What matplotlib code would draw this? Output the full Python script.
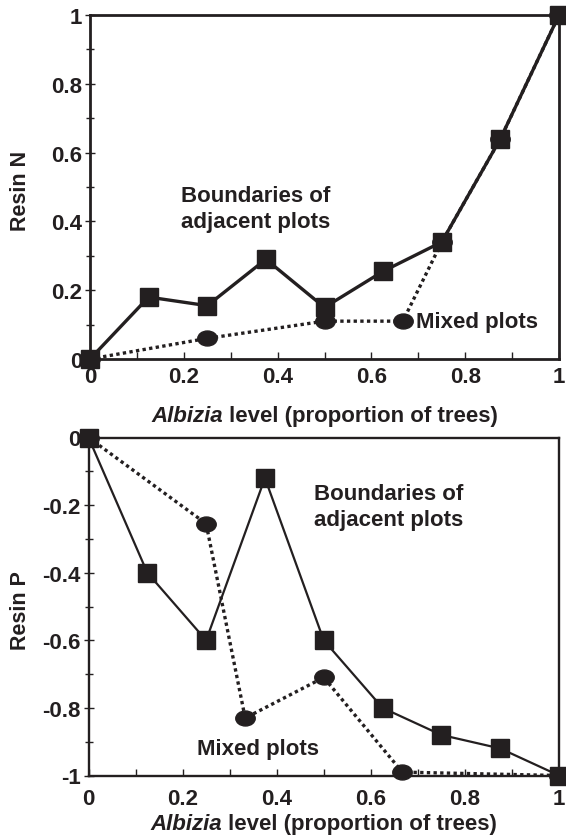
from matplotlib import pyplot as plt
from matplotlib.path import Path
from matplotlib.transforms import Affine2D
from matplotlib.ticker import MultipleLocator, FuncFormatter

plt.rcParams['font.family'] = ['Liberation Sans', 'DejaVu Sans']
plt.rcParams['font.weight'] = 'bold'
plt.rcParams['axes.unicode_minus'] = False

ink = '#231f20'
W, H = 566, 837

# top panel: resin N
xN_bound = [0, 0.125, 0.25, 0.375, 0.5, 0.625, 0.75, 0.875, 1]
yN_bound = [0, 0.18, 0.155, 0.29, 0.15, 0.255, 0.34, 0.64, 1]
xN_mixed = [0, 0.25, 0.5, 0.667, 0.75, 0.875, 1]
yN_mixed = [0, 0.06, 0.11, 0.11, 0.34, 0.64, 1]

# bottom panel: resin P
xP_bound = [0, 0.125, 0.25, 0.375, 0.5, 0.625, 0.75, 0.875, 1]
yP_bound = [0, -0.40, -0.60, -0.12, -0.60, -0.80, -0.88, -0.92, -1]
xP_mixed = [0, 0.25, 0.333, 0.5, 0.667, 1]
yP_mixed = [0, -0.255, -0.83, -0.71, -0.99, -1]

ellipse = Path.unit_circle().transformed(Affine2D().scale(1.3, 1.0))

def fmt(v, pos):
    return '%g' % round(v, 2)

def styleAxes(ax, ylo, yhi, lw, xpad):
    ax.set_xlim(0, 1)
    ax.set_ylim(ylo, yhi)
    for s in ax.spines.values():
        s.set_linewidth(lw)
        s.set_color(ink)
    ax.xaxis.set_major_locator(MultipleLocator(0.2))
    ax.xaxis.set_minor_locator(MultipleLocator(0.1))
    ax.yaxis.set_major_locator(MultipleLocator(0.2))
    ax.yaxis.set_minor_locator(MultipleLocator(0.1))
    ax.xaxis.set_major_formatter(FuncFormatter(fmt))
    ax.yaxis.set_major_formatter(FuncFormatter(fmt))
    ax.tick_params(axis='x', which='major', direction='in', length=5, width=1, pad=xpad,
                   labelsize=16, colors=ink)
    ax.tick_params(axis='x', which='minor', direction='in', length=5, width=1, colors=ink)
    ax.tick_params(axis='y', which='major', direction='inout', length=7.5, width=1, pad=2,
                   labelsize=16, colors=ink)
    ax.tick_params(axis='y', which='minor', direction='inout', length=6, width=1, colors=ink)

def xLabel(ax, xpx, ybase):
    # italic genus name followed by the upright rest of the label
    t1 = fig.text(xpx / W, 1 - ybase / H, 'Albizia', fontsize=16, style='italic',
                  fontweight='bold', ha='left', va='baseline', color=ink)
    ax.annotate(' level (proportion of trees)', xy=(1, 0), xycoords=t1,
                fontsize=16, fontweight='bold', ha='left', va='bottom',
                color=ink, annotation_clip=False)

def yLabel(txt, xpx, ypx):
    fig.text(xpx / W, 1 - ypx / H, txt, rotation=90, fontsize=15.5, fontweight='bold',
             ha='center', va='center', color=ink)


fig = plt.figure(figsize=(W / 100, H / 100), dpi=100)

ax1 = fig.add_axes([90 / W, 1 - 360 / H, 469 / W, 344 / H])
styleAxes(ax1, 0, 1, 2.0, 5)
ax1.plot(xN_mixed, yN_mixed, color=ink, lw=2.4, linestyle=(0, (1, 1)),
         marker=ellipse, markersize=14, markerfacecolor=ink, markeredgecolor=ink,
         clip_on=False, zorder=3)
ax1.plot(xN_bound, yN_bound, color=ink, lw=2.4, marker='s', markersize=13,
         markerfacecolor=ink, markeredgecolor=ink, clip_on=False, zorder=4)
ax1.text(0.193, 0.505, 'Boundaries of\nadjacent plots', fontsize=16, ha='left', va='top',
         linespacing=1.3, color=ink)
ax1.text(0.696, 0.108, 'Mixed plots', fontsize=16, ha='left', va='center', color=ink)
yLabel('Resin N', 20.5, 191)
xLabel(ax1, 151, 422)

ax2 = fig.add_axes([88.5 / W, 1 - 776.5 / H, 470.5 / W, 338 / H])
styleAxes(ax2, -1, 0, 1.7, 9)
ax2.plot(xP_mixed, yP_mixed, color=ink, lw=2.4, linestyle=(0, (1, 1)),
         marker=ellipse, markersize=14, markerfacecolor=ink, markeredgecolor=ink,
         clip_on=False, zorder=3)
ax2.plot(xP_bound, yP_bound, color=ink, lw=1.6, marker='s', markersize=13,
         markerfacecolor=ink, markeredgecolor=ink, clip_on=False, zorder=4)
ax2.text(0.48, -0.135, 'Boundaries of\nadjacent plots', fontsize=16, ha='left', va='top',
         linespacing=1.3, color=ink)
ax2.text(0.23, -0.92, 'Mixed plots', fontsize=16, ha='left', va='center', color=ink)
yLabel('Resin P', 20.5, 611)
xLabel(ax2, 150, 830)

fig.savefig('out.png', dpi=100)
